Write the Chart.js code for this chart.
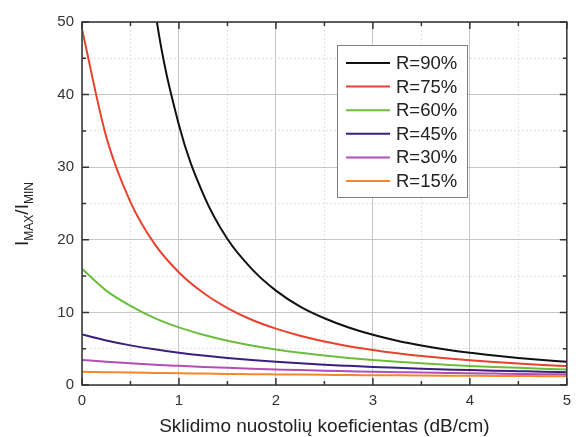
<!DOCTYPE html>
<html>
<head>
<meta charset="utf-8">
<script src="https://cdn.jsdelivr.net/npm/chart.js@4.4.1/dist/chart.umd.min.js"></script>
<style>
  html, body { margin: 0; padding: 0; background: #fff; }
  #grafico { display: block; }
</style>
</head>
<body>
<canvas id="grafico" width="578" height="437"></canvas>
<script>
// nuostoliai (dB/cm)
const xValues = [0, 0.25, 0.5, 0.75, 1, 1.25, 1.5, 1.75, 2, 2.25, 2.5, 2.75, 3, 3.25, 3.5, 3.75, 4, 4.25, 4.5, 4.75, 5];

// Imax/Imin kiekvienam R
const r90 = [null, null, 82.3, 52.0, 35.8, 26.3, 20.1, 16.0, 13.0, 10.8, 9.19, 7.92, 6.91, 6.10, 5.44, 4.89, 4.43, 4.05, 3.72, 3.44, 3.19];
const r75 = [49, 34.2, 25.2, 19.4, 15.5, 12.7, 10.6, 8.99, 7.76, 6.78, 5.99, 5.35, 4.82, 4.37, 3.99, 3.67, 3.40, 3.16, 2.95, 2.77, 2.61];
const r60 = [16, 13.0, 10.9, 9.21, 7.93, 6.92, 6.10, 5.44, 4.89, 4.43, 4.05, 3.72, 3.44, 3.19, 2.98, 2.79, 2.63, 2.49, 2.36, 2.24, 2.14];
const r45 = [6.95, 6.13, 5.46, 4.91, 4.45, 4.06, 3.73, 3.45, 3.20, 2.99, 2.80, 2.64, 2.49, 2.36, 2.25, 2.15, 2.05, 1.97, 1.90, 1.83, 1.77];
const r30 = [3.45, 3.20, 2.99, 2.80, 2.64, 2.49, 2.36, 2.25, 2.15, 2.05, 1.97, 1.90, 1.83, 1.77, 1.71, 1.66, 1.61, 1.57, 1.53, 1.49, 1.46];
const r15 = [1.83, 1.77, 1.71, 1.66, 1.61, 1.57, 1.53, 1.49, 1.46, 1.43, 1.40, 1.37, 1.35, 1.33, 1.31, 1.29, 1.27, 1.25, 1.24, 1.22, 1.21];

const seriesLabels = ['R=90%', 'R=75%', 'R=60%', 'R=45%', 'R=30%', 'R=15%'];
const seriesColors = ['#111111', '#e8412c', '#6cbd3c', '#3b1f80', '#b24fb4', '#f5862a'];
const seriesData = [r90, r75, r60, r45, r30, r15];

const xTickLabels = ['0', '1', '2', '3', '4', '5'];
const yTickLabels = ['0', '10', '20', '30', '40', '50'];

const FONT = "'Liberation Sans', Arial, sans-serif";

const canvas_grafico = document.getElementById('grafico');

// remelis, vidines padalos, legenda ir y asies pavadinimas
const priedai = {
    id: 'priedai',
    afterDraw(chart) {
        const ctx = chart.ctx;
        const a = chart.chartArea;
        const sx = chart.scales.x;
        const sy = chart.scales.y;
        ctx.save();

        ctx.strokeStyle = '#333';
        ctx.lineWidth = 1.5;
        ctx.strokeRect(a.left, a.top, a.right - a.left, a.bottom - a.top);

        ctx.beginPath();
        sx.ticks.forEach(t => {
            const px = sx.getPixelForValue(t.value);
            const len = Number.isInteger(t.value) ? 7 : 4;
            ctx.moveTo(px, a.bottom); ctx.lineTo(px, a.bottom - len);
            ctx.moveTo(px, a.top); ctx.lineTo(px, a.top + len);
        });
        sy.ticks.forEach(t => {
            const py = sy.getPixelForValue(t.value);
            const len = t.value % 10 === 0 ? 7 : 4;
            ctx.moveTo(a.left, py); ctx.lineTo(a.left + len, py);
            ctx.moveTo(a.right, py); ctx.lineTo(a.right - len, py);
        });
        ctx.stroke();

        // legenda
        const lx = 337, ly = 45, lw = 130, lh = 152;
        ctx.fillStyle = '#fff';
        ctx.fillRect(lx, ly, lw, lh);
        ctx.strokeStyle = '#808080';
        ctx.lineWidth = 1;
        ctx.strokeRect(lx + 0.5, ly + 0.5, lw, lh);
        ctx.font = '18.5px ' + FONT;
        ctx.textBaseline = 'middle';
        ctx.textAlign = 'left';
        chart.data.datasets.forEach((ds, i) => {
            const yy = ly + 18 + i * 23.6;
            ctx.strokeStyle = ds.borderColor;
            ctx.lineWidth = 2;
            ctx.beginPath();
            ctx.moveTo(lx + 9, yy);
            ctx.lineTo(lx + 53, yy);
            ctx.stroke();
            ctx.fillStyle = '#222';
            ctx.fillText(ds.label, lx + 59, yy + 1);
        });

        // y asies pavadinimas su indeksais
        const parts = [['I', 19, 0], ['MAX', 12, 5], ['/I', 19, 0], ['MIN', 12, 5]];
        ctx.translate(22, 214);
        ctx.rotate(-Math.PI / 2);
        let total = 0;
        parts.forEach(p => { ctx.font = p[1] + 'px ' + FONT; total += ctx.measureText(p[0]).width; });
        let cx = -total / 2;
        ctx.fillStyle = '#222';
        ctx.textBaseline = 'alphabetic';
        parts.forEach(p => {
            ctx.font = p[1] + 'px ' + FONT;
            ctx.fillText(p[0], cx, 6 + p[2]);
            cx += ctx.measureText(p[0]).width;
        });
        ctx.restore();
    }
};

const gridColor = c => (c.index % 2 ? '#e2e2e2' : '#c6c6c6');
const gridDash = c => (c.index % 2 ? [2, 2] : []);

new Chart(canvas_grafico.getContext('2d'), {
    type: 'line',
    data: {
        labels: xValues,
        datasets: seriesLabels.map((label, i) => ({
            label: label,
            data: seriesData[i].map((v, j) => ({ x: xValues[j], y: v })),
            borderColor: seriesColors[i],
            backgroundColor: seriesColors[i],
            borderWidth: 2,
            pointRadius: 0,
            fill: false,
            cubicInterpolationMode: 'monotone',
        })),
    },
    options: {
        responsive: false,
        animation: false,
        layout: { padding: { top: 22, right: 4, left: 0, bottom: 0 } },
        plugins: { legend: { display: false }, tooltip: { enabled: false } },
        scales: {
            x: {
                type: 'linear',
                min: 0,
                max: 5,
                afterFit: s => { s.height = 52; },
                ticks: {
                    stepSize: 0.5,
                    autoSkip: false,
                    maxRotation: 0,
                    padding: 7,
                    color: '#333',
                    font: { size: 15, family: FONT },
                    callback: v => (Number.isInteger(v) ? xTickLabels[v] : ''),
                },
                grid: { drawTicks: false, color: gridColor, lineWidth: 1 },
                border: { display: false, dash: gridDash },
                title: {
                    display: true,
                    text: 'Sklidimo nuostolių koeficientas (dB/cm)',
                    color: '#222',
                    font: { size: 19, family: FONT },
                    padding: { top: 0, bottom: -1 },
                },
            },
            y: {
                min: 0,
                max: 50,
                afterFit: s => { s.width = 82; },
                ticks: {
                    stepSize: 5,
                    autoSkip: false,
                    padding: 8,
                    color: '#333',
                    font: { size: 15, family: FONT },
                    callback: v => (v % 10 === 0 ? yTickLabels[v / 10] : ''),
                },
                grid: { drawTicks: false, color: gridColor, lineWidth: 1 },
                border: { display: false, dash: gridDash },
            },
        },
    },
    plugins: [priedai],
});
</script>
</body>
</html>
